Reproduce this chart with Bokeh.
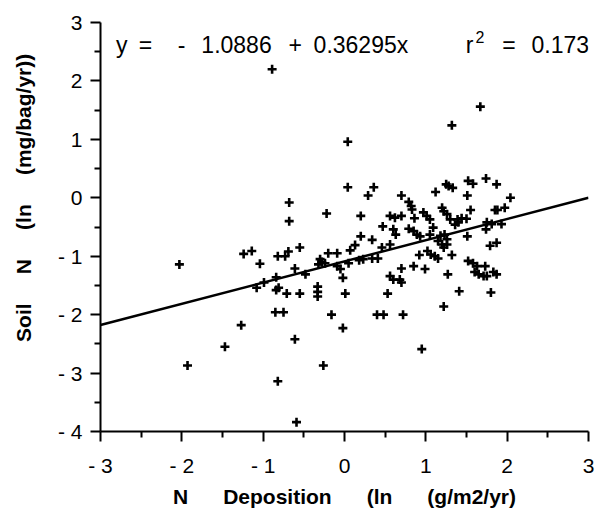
from bokeh.plotting import figure
from bokeh.models import Label, FixedTicker, Range1d
from bokeh.embed import file_html
from bokeh.resources import INLINE

# N deposition (ln g/m2/yr) and soil N (ln mg/bag/yr)
dep = [-0.89, 0.04, 0.04, 0.29, -0.68, -0.68, -0.22, 0.20, 0.20, 0.13,
       0.07, -1.24, -1.14, -1.04, -0.82, -0.73, -0.69, -0.55, -0.61, -0.48,
       -0.30, -0.28, -0.32, -0.24, -0.20, -0.09, -0.09, -0.05, -0.02, 0.05,
       0.18, 0.23, -0.84, -1.08, -0.99, -0.84, -0.81, -0.71, -0.55, -0.33,
       -0.33, -0.33, 0.01, -0.85, -0.75, -0.16, 1.32, 0.36, 0.70, 1.12,
       1.25, 1.28, 1.33, 1.52, 1.58, 1.74, 1.51, 0.79, 0.82, 0.83,
       0.56, 0.62, 0.70, 0.86, 0.97, 1.01, 1.05, 1.20, 1.22, 1.26,
       1.30, 1.39, 1.44, 1.50, 1.55, 1.74, 0.47, 0.60, 0.63, 0.79,
       0.85, 0.89, 0.93, 1.09, 1.05, 1.18, 1.23, 1.26, 1.15, 1.20,
       1.26, 1.22, 1.51, 0.34, 0.46, 0.56, 0.34, 0.41, 0.92, 1.02,
       1.06, 1.11, 1.15, 1.32, 0.70, 0.85, 0.99, 0.56, 0.60, 0.68,
       0.70, 1.27, 1.52, 1.58, 1.63, 1.60, 1.65, 1.71, 1.41, 0.53,
       1.22, 0.40, 0.48, 0.72, 1.67, 1.87, 2.04, 1.97, 1.85, 1.88,
       1.40, 1.75, 1.81, 1.93, 1.79, 1.87, 1.73, 1.75, 1.83, 1.87,
       1.80, -2.03, -1.27, -1.47, -1.93, -0.02, -0.61, -0.26, -0.82, -0.59,
       0.95, 1.36]
soil = [2.20, 0.96, 0.18, 0.04, -0.08, -0.40, -0.27, -0.31, -0.66, -0.81,
        -0.90, -0.96, -0.91, -1.13, -1.00, -1.00, -0.92, -0.85, -1.21, -1.31,
        -1.05, -1.10, -1.14, -1.12, -0.95, -0.95, -1.17, -1.22, -1.37, -1.12,
        -1.07, -1.05, -1.36, -1.54, -1.45, -1.58, -1.54, -1.64, -1.64, -1.52,
        -1.61, -1.69, -1.64, -1.96, -1.96, -2.00, 1.24, 0.18, 0.04, 0.10,
        0.23, 0.20, 0.17, 0.29, 0.24, 0.33, 0.04, -0.07, -0.14, -0.20,
        -0.31, -0.34, -0.31, -0.35, -0.25, -0.31, -0.37, -0.17, -0.23, -0.28,
        -0.37, -0.37, -0.35, -0.36, -0.21, -0.54, -0.49, -0.54, -0.63, -0.53,
        -0.57, -0.63, -0.66, -0.51, -0.63, -0.65, -0.63, -0.71, -0.74, -0.80,
        -0.80, -0.85, -0.66, -0.72, -0.85, -0.80, -1.04, -1.04, -0.98, -0.91,
        -0.97, -1.00, -1.04, -0.98, -1.21, -1.17, -1.22, -1.34, -1.40, -1.40,
        -1.45, -1.31, -1.08, -1.12, -1.17, -1.27, -1.31, -1.34, -1.60, -1.64,
        -1.86, -2.00, -2.00, -2.00, 1.56, 0.23, 0.00, -0.17, -0.21, -0.21,
        -0.42, -0.42, -0.45, -0.45, -0.82, -0.77, -1.17, -1.34, -1.27, -1.31,
        -1.62, -1.14, -2.18, -2.55, -2.87, -2.23, -2.42, -2.87, -3.14, -3.84,
        -2.59, -0.46]

# regression
intercept = -1.0886
slope = 0.36295
r_squared = 0.173

x_ticks = [-3, -2, -1, 0, 1, 2, 3]
x_tick_labels = ["- 3", "- 2", "- 1", "0", "1", "2", "3"]
y_ticks = [-4, -3, -2, -1, 0, 1, 2, 3]
y_tick_labels = ["- 4", "- 3", "- 2", "- 1", "0", "1", "2", "3"]

NB = "\u00a0"
x_title = (NB * 6).join(["N", "Deposition", "(ln", "(g/m2/yr)"])
y_title = NB * 10 + (NB * 5).join(["Soil", "N", "(ln", "(mg/bag/yr))"])

FONT = "Liberation Sans"

p = figure(width=600, height=512, output_backend="svg", toolbar_location=None,
           x_range=Range1d(x_ticks[0], x_ticks[-1]), y_range=Range1d(y_ticks[0], y_ticks[-1]),
           min_border_left=100, min_border_right=12, min_border_top=22, min_border_bottom=81)
p.outline_line_color = None
p.grid.visible = False
p.background_fill_color = "white"
p.border_fill_color = "white"

p.xaxis.ticker = FixedTicker(ticks=x_ticks, minor_ticks=[t + 0.5 for t in x_ticks[:-1]])
p.yaxis.ticker = FixedTicker(ticks=y_ticks, minor_ticks=[t + 0.5 for t in y_ticks[:-1]])
p.xaxis.major_label_overrides = {t: s for t, s in zip(x_ticks, x_tick_labels)}
p.yaxis.major_label_overrides = {t: s for t, s in zip(y_ticks, y_tick_labels)}
p.xaxis.axis_label = x_title
p.yaxis.axis_label = y_title

for ax in (p.xaxis[0], p.yaxis[0]):
    ax.axis_line_width = 2
    ax.axis_line_color = "black"
    ax.major_tick_line_width = 2
    ax.minor_tick_line_width = 2
    ax.major_tick_line_color = "black"
    ax.minor_tick_line_color = "black"
    ax.major_tick_out = 10
    ax.major_tick_in = 0
    ax.minor_tick_out = 6
    ax.minor_tick_in = 0
    ax.major_label_text_font = FONT
    ax.major_label_text_font_size = "21px"
    ax.major_label_text_color = "black"
    ax.axis_label_text_font = FONT
    ax.axis_label_text_font_size = "21px"
    ax.axis_label_text_font_style = "bold"
    ax.axis_label_text_color = "black"

p.xaxis.major_label_standoff = 12
p.xaxis.axis_label_standoff = 5
p.yaxis.major_label_standoff = 8
p.yaxis.axis_label_standoff = 20

p.scatter(dep, soil, marker="cross", size=9, line_width=2.6, line_color="black")

line_x = [x_ticks[0], x_ticks[-1]]
line_y = [intercept + slope * v for v in line_x]
p.line(line_x, line_y, line_width=2.5, line_color="black")

eq_y = 2.62
pieces = [(-2.81, "y"), (-2.53, "="), (-2.05, "-"), (-1.76, "1.0886"),
          (-0.69, "+"), (-0.38, "0.36295x"), (1.49, "r"), (1.94, "="),
          (2.30, "0.173")]
for px, txt in pieces:
    p.add_layout(Label(x=px, y=eq_y, text=txt, text_font=FONT, text_font_size="23px",
                       text_baseline="middle", text_align="left", text_color="black"))
p.add_layout(Label(x=1.61, y=2.75, text="2", text_font=FONT, text_font_size="16px",
                   text_baseline="middle", text_align="left", text_color="black"))

open("out.html", "w").write(file_html(p, INLINE))
